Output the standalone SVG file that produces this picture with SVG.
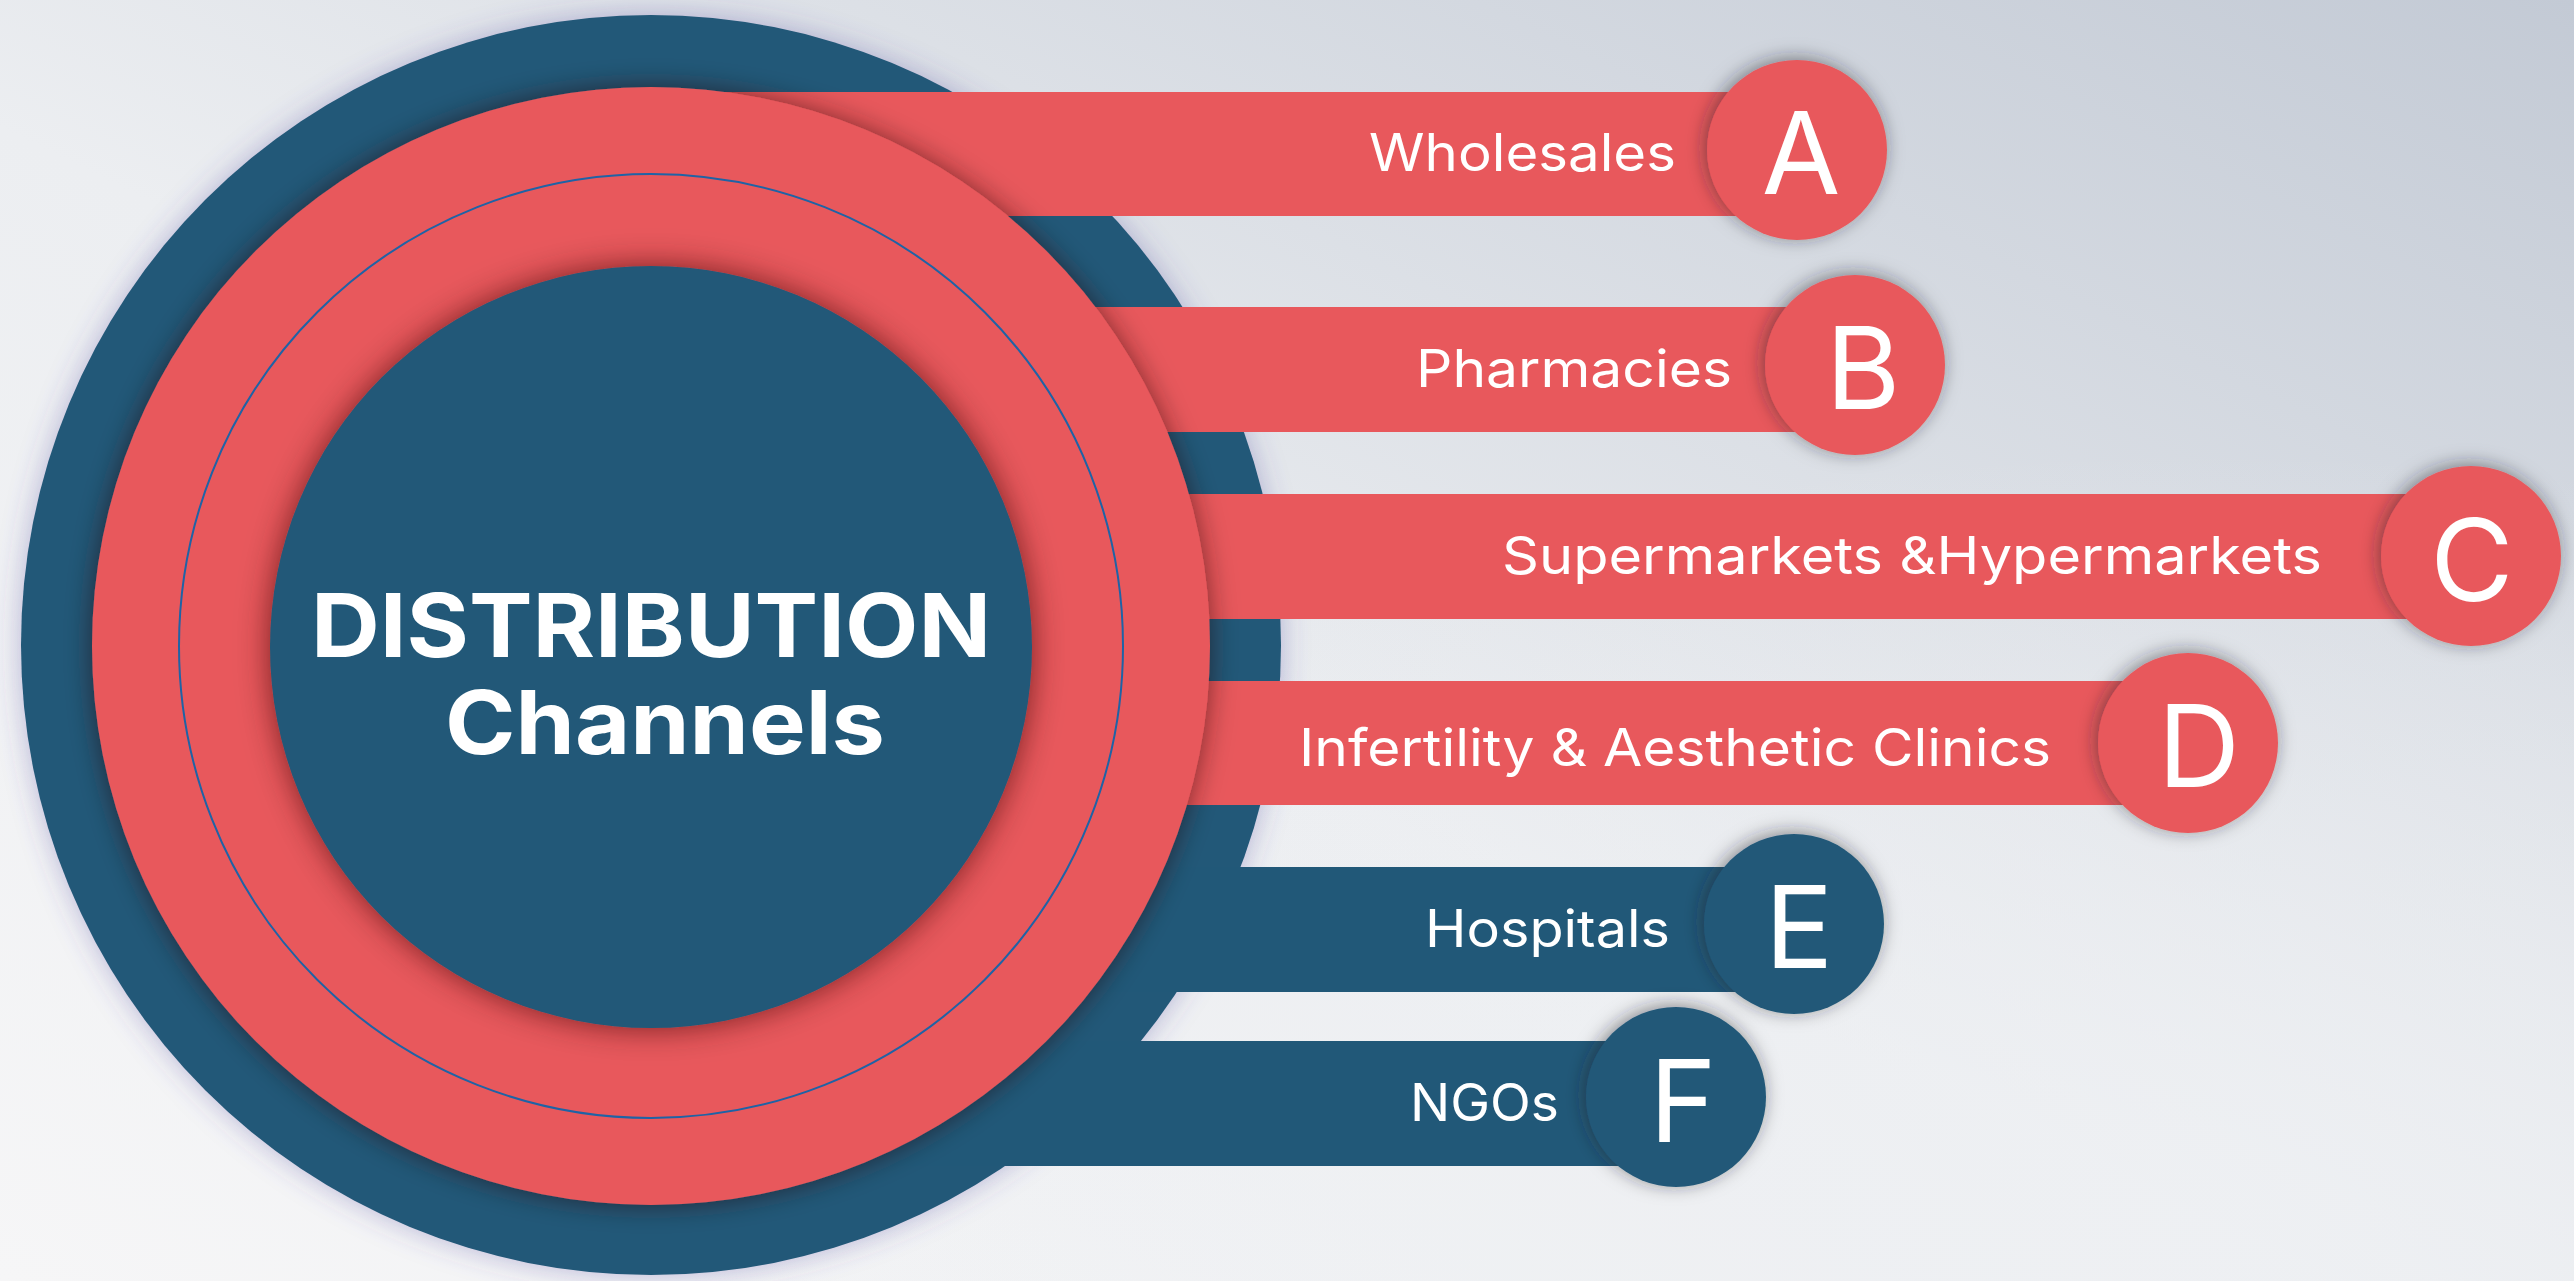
<svg xmlns="http://www.w3.org/2000/svg" width="2574" height="1281" viewBox="0 0 2574 1281">
<defs>
<linearGradient id="bg" x1="0" y1="1" x2="1" y2="0">
<stop offset="0" stop-color="#f6f6f7"/>
<stop offset="0.45" stop-color="#eceef1"/>
<stop offset="1" stop-color="#c3cad5"/>
</linearGradient>
<radialGradient id="bg2" cx="0.85" cy="0.95" r="0.6">
<stop offset="0" stop-color="#eef0f3" stop-opacity="0.9"/>
<stop offset="1" stop-color="#eef0f3" stop-opacity="0"/>
</radialGradient>
<filter id="glow" x="-10%" y="-10%" width="120%" height="120%">
<feDropShadow dx="0" dy="0" stdDeviation="14" flood-color="#4a3f9c" flood-opacity="0.35"/>
</filter>
<filter id="ringShadow" x="-10%" y="-10%" width="120%" height="120%">
<feDropShadow dx="0" dy="0" stdDeviation="14" flood-color="#2a0a12" flood-opacity="0.55"/>
</filter>
<filter id="innerShadow" x="-15%" y="-15%" width="130%" height="130%">
<feDropShadow dx="0" dy="0" stdDeviation="16" flood-color="#3a0a14" flood-opacity="0.65"/>
</filter>
<filter id="badgeShadow" x="-30%" y="-30%" width="160%" height="160%">
<feDropShadow dx="-2" dy="-2" stdDeviation="9" flood-color="#1a1a28" flood-opacity="0.5"/>
</filter>
<style>
.red{fill:#e8585c}
.blue{fill:#215878}
.label{font-family:Inter,"Open Sans","Liberation Sans",sans-serif;font-size:52px;font-weight:400;fill:#ffffff;text-anchor:end}
.letter{font-family:Inter,"Open Sans","Liberation Sans",sans-serif;font-size:114px;font-weight:400;fill:#ffffff;text-anchor:middle}
.title{font-family:Inter,"Open Sans","Liberation Sans",sans-serif;font-size:88px;font-weight:700;fill:#ffffff;text-anchor:middle}
</style>
</defs>
<rect width="2574" height="1281" fill="url(#bg)"/>
<rect width="2574" height="1281" fill="url(#bg2)"/>

<g id="hub-base">
<circle class="blue" cx="651" cy="645" r="630" filter="url(#glow)"/>
</g>

<g id="connectors">
<rect class="red" x="651" y="92" width="1146" height="124"/>
<rect class="red" x="651" y="307" width="1203" height="125"/>
<rect class="red" x="651" y="494" width="1820" height="125"/>
<rect class="red" x="651" y="681" width="1537" height="124"/>
<rect class="blue" x="651" y="867" width="1143" height="125"/>
<rect class="blue" x="651" y="1041" width="1025" height="125"/>
</g>

<g id="hub">
<circle class="red" cx="651" cy="646" r="559" filter="url(#ringShadow)"/>
<circle cx="651" cy="646" r="472" fill="none" stroke="#1e63a6" stroke-width="2"/>
<circle class="blue" cx="651" cy="647" r="381" filter="url(#innerShadow)"/>
<text class="title" x="651" y="657" textLength="680" lengthAdjust="spacingAndGlyphs">DISTRIBUTION</text>
<text class="title" x="665" y="754" textLength="440" lengthAdjust="spacingAndGlyphs">Channels</text>
</g>

<g id="node-a">
<text class="label" x="1676" y="171" textLength="307" lengthAdjust="spacingAndGlyphs">Wholesales</text>
<circle class="red" cx="1797" cy="150" r="90" filter="url(#badgeShadow)"/>
<text class="letter" x="1801" y="194">A</text>
</g>
<g id="node-b">
<text class="label" x="1732" y="387" textLength="316" lengthAdjust="spacingAndGlyphs">Pharmacies</text>
<circle class="red" cx="1855" cy="365" r="90" filter="url(#badgeShadow)"/>
<text class="letter" x="1863" y="409">B</text>
</g>
<g id="node-c">
<text class="label" x="2322" y="574" textLength="820" lengthAdjust="spacingAndGlyphs">Supermarkets &amp;Hypermarkets</text>
<circle class="red" cx="2471" cy="556" r="90" filter="url(#badgeShadow)"/>
<text class="letter" x="2472" y="601">C</text>
</g>
<g id="node-d">
<text class="label" x="2051" y="766" textLength="752" lengthAdjust="spacingAndGlyphs">Infertility &amp; Aesthetic Clinics</text>
<circle class="red" cx="2188" cy="743" r="90" filter="url(#badgeShadow)"/>
<text class="letter" x="2199" y="787">D</text>
</g>
<g id="node-e">
<text class="label" x="1670" y="947" textLength="245" lengthAdjust="spacingAndGlyphs">Hospitals</text>
<circle class="blue" cx="1794" cy="924" r="90" filter="url(#badgeShadow)"/>
<text class="letter" x="1799" y="968">E</text>
</g>
<g id="node-f">
<text class="label" x="1559" y="1121" textLength="149" lengthAdjust="spacingAndGlyphs">NGOs</text>
<circle class="blue" cx="1676" cy="1097" r="90" filter="url(#badgeShadow)"/>
<text class="letter" x="1683" y="1142">F</text>
</g>
</svg>
